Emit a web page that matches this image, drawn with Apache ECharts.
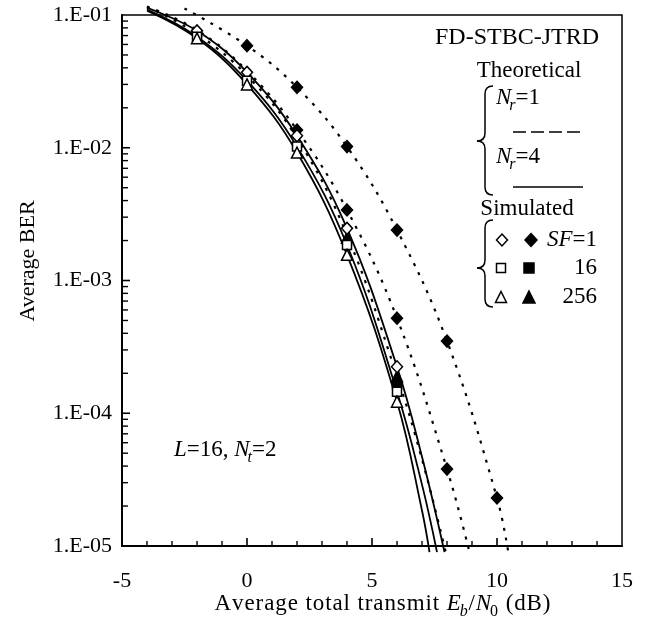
<!DOCTYPE html>
<html><head><meta charset="utf-8">
<script src="https://cdn.jsdelivr.net/npm/echarts/dist/echarts.min.js"></script>
<style>html,body{margin:0;padding:0;background:#fff}#c{width:651px;height:619px}</style>
</head><body><div id="c"></div>
<script>
// ---------- data ----------
const xTickLabels = ['-5', '0', '5', '10', '15'];
const yTickLabels = ['1.E-01', '1.E-02', '1.E-03', '1.E-04', '1.E-05'];
// solid theoretical curves
const solidA = [[-4, 0.113], [-2, 0.076], [0, 0.037], [2, 0.0123], [4, 0.00247], [6, 2.24e-4], [7, 4.7e-5], [7.9, 9e-6]];
const solidB = [[-4, 0.110], [-2, 0.0687], [0, 0.032], [2, 0.0102], [4, 0.00185], [6, 1.45e-4], [7, 2.9e-5], [7.6, 9e-6]];
const solidC = [[-4, 0.108], [-2, 0.0667], [0, 0.030], [2, 0.0092], [4, 0.00156], [6, 1.22e-4], [7, 1.85e-5], [7.3, 9e-6]];
// dotted theoretical curves
const dottedA = [[-2.5, 0.112], [0, 0.0587], [2, 0.0285], [4, 0.0102], [6, 0.0024], [8, 3.5e-4], [10, 2.3e-5], [10.45, 9e-6]];
const dottedB = [[-4, 0.116], [-2, 0.077], [0, 0.038], [2, 0.0136], [4, 0.0034], [6, 5.2e-4], [8, 3.8e-5], [8.9, 9e-6]];
const dottedC = [[-4, 0.115], [-2, 0.072], [0, 0.035], [2, 0.0118], [4, 0.0022], [6, 1.9e-4], [7, 4.5e-5], [7.95, 9e-6]];
// simulated markers
const openDiamond = [[-2, 0.076], [0, 0.037], [2, 0.0123], [4, 0.00247], [6, 2.24e-4]];
const openSquare = [[-2, 0.0687], [0, 0.032], [2, 0.0102], [4, 0.00185], [6, 1.45e-4]];
const openTriangle = [[-2, 0.0667], [0, 0.030], [2, 0.0092], [4, 0.00156], [6, 1.22e-4]];
const filledDiamond = [[0, 0.0587], [2, 0.0285], [4, 0.0102], [6, 0.0024], [8, 3.5e-4], [10, 2.3e-5],
                       [2, 0.0136], [4, 0.0034], [6, 5.2e-4], [8, 3.8e-5]];
const filledSquare = [[6, 1.65e-4]];
const filledTriangle = [[4, 0.0021], [6, 1.89e-4]];

// ---------- helpers ----------
const FONT = '"Liberation Serif","Times New Roman",serif';
const CV = document.createElement('canvas').getContext('2d');
function measure(font, t) { CV.font = font; return CV.measureText(t).width; }
function richText(x, y, parts, size, align, track) {
  track = track || 0;
  const items = []; let cur = 0;
  for (const [t, st] of parts) {
    const sub = st.indexOf('sub') >= 0, it = st.indexOf('i') >= 0;
    const fs = sub ? Math.round(size * 0.68) : size;
    const font = (it ? 'italic ' : '') + fs + 'px ' + FONT;
    const shift = sub ? -2 : 0;
    cur += shift;
    const chunks = track ? t.split('') : [t];
    for (const ch of chunks) {
      items.push({ t: ch, font, dx: cur, dy: sub ? size * 0.32 : 0 });
      cur += measure(font, ch) + track;
    }
  }
  const start = align === 'center' ? x - cur / 2 : align === 'right' ? x - cur : x;
  return items.map(o => ({ type: 'text', x: start + o.dx, y: y + o.dy, z: 100,
    style: { text: o.t, font: o.font, fill: '#000', align: 'left', verticalAlign: 'middle' } }));
}
function diamondPts(cx, cy, w, h) { return [[cx, cy - h / 2], [cx + w / 2, cy], [cx, cy + h / 2], [cx - w / 2, cy]]; }
function triPts(cx, cy, w, h) { return [[cx, cy - h / 2], [cx + w / 2, cy + h / 2], [cx - w / 2, cy + h / 2]]; }
function poly(pts, filled) { return { type: 'polygon', z: 100, shape: { points: pts }, style: { fill: filled ? '#000' : '#fff', stroke: '#000', lineWidth: 1.5 } }; }
function rectEl(cx, cy, s, filled) { return { type: 'rect', z: 100, shape: { x: cx - s / 2, y: cy - s / 2, width: s, height: s }, style: { fill: filled ? '#000' : '#fff', stroke: '#000', lineWidth: 1.5 } }; }
const stroke = { fill: null, stroke: '#000', lineWidth: 1.5 };
function brace(x, top, tip, bottom) {
  const r = 8;
  const q = (x1, y1, cx, cy, x2, y2) => ({ type: 'bezierCurve', z: 100, shape: { x1, y1, x2, y2, cpx1: cx, cpy1: cy }, style: stroke });
  const l = (x1, y1, x2, y2) => ({ type: 'line', z: 100, shape: { x1, y1, x2, y2 }, style: stroke });
  return [
    q(x + r, top, x, top, x, top + r), l(x, top + r, x, tip - r),
    q(x, tip - r, x, tip, x - r, tip), q(x - r, tip, x, tip, x, tip + r),
    l(x, tip + r, x, bottom - r), q(x, bottom - r, x, bottom, x + r, bottom)
  ];
}

// tick values
const xMajorTicks = [0, 5, 10];
const xMinorTicks = [];
for (let v = -4; v <= 14; v++) if (v % 5 !== 0) xMinorTicks.push(v);
const yMajorTicks = [1e-4, 1e-3, 1e-2];
const yMinorTicks = [];
for (let e = -5; e <= -2; e++) for (let m = 2; m <= 9; m++) yMinorTicks.push(m * Math.pow(10, e));

const LG = 23;
const graphics = [].concat(
  richText(599, 38, [['FD-STBC-JTRD', '']], 24, 'right'),
  richText(529, 71, [['Theoretical', '']], LG, 'center'),
  richText(496, 98, [['N', 'i'], ['r', 'isub'], ['=1', '']], LG, 'left'),
  richText(496, 157, [['N', 'i'], ['r', 'isub'], ['=4', '']], LG, 'left'),
  richText(527, 209, [['Simulated', '']], LG, 'center'),
  richText(547, 240, [['SF', 'i'], ['=1', '']], LG, 'left'),
  richText(597, 268, [['16', '']], LG, 'right'),
  richText(597, 297, [['256', '']], LG, 'right'),
  richText(174, 450, [['L', 'i'], ['=16, ', ''], ['N', 'i'], ['t', 'isub'], ['=2', '']], LG, 'left'),
  richText(383, 604, [['Average total transmit ', ''], ['E', 'i'], ['b', 'isub'], ['/', ''], ['N', 'i'], ['0', 'sub'], [' (dB)', '']], 23, 'center', 0.9),
  brace(485, 86, 141, 195),
  brace(485, 220, 268, 307),
  [
    { type: 'text', x: 28, y: 261, rotation: Math.PI / 2, z: 100,
      style: { text: 'Average BER', font: '22px ' + FONT, fill: '#000', align: 'center', verticalAlign: 'middle' } },
    { type: 'line', z: 100, shape: { x1: 513, y1: 132, x2: 583, y2: 132 }, style: { stroke: '#000', lineWidth: 1.5, lineDash: [13, 5] } },
    { type: 'line', z: 100, shape: { x1: 513, y1: 187, x2: 583, y2: 187 }, style: { stroke: '#000', lineWidth: 1.5 } },
    poly(diamondPts(502, 240, 11, 12), false), poly(diamondPts(531, 240, 12, 13), true),
    rectEl(501, 268, 9, false), rectEl(529, 268, 10, true),
    poly(triPts(501, 297, 11, 11), false), poly(triPts(529, 297, 12, 12), true)
  ]
);

const solidStyle = { color: '#000', width: 1.8 };
const dotStyle = { color: '#000', width: 2.2, type: [3, 7] };
function lineSeries(data, style) {
  return { type: 'line', data, symbol: 'none', smooth: 0.4, clip: false, lineStyle: style, z: 2, silent: true };
}
function scatterSeries(data, symbol, size, filled) {
  return { type: 'scatter', data, symbol, symbolSize: size, z: filled ? 8 : 10, silent: true, clip: false,
    itemStyle: { color: filled ? '#000' : '#fff', borderColor: '#000', borderWidth: 1.5, opacity: 1 } };
}

const chart = echarts.init(document.getElementById('c'), null, { renderer: 'canvas' });
chart.setOption({
  animation: false,
  backgroundColor: '#fff',
  grid: { left: 122, right: 29, top: 15, bottom: 73, show: true, backgroundColor: 'transparent', borderColor: '#000', borderWidth: 1.5, containLabel: false, outerBoundsMode: 'none' },
  xAxis: {
    type: 'value', min: -5, max: 15, interval: 5,
    axisLine: { show: true, onZero: false, lineStyle: { color: '#000', width: 2 } },
    axisTick: { show: false },
    minorTick: { show: false },
    splitLine: { show: false },
    axisLabel: { margin: 24, color: '#000', fontFamily: FONT, fontSize: 22,
      formatter: v => xTickLabels[Math.round((v + 5) / 5)] }
  },
  yAxis: {
    type: 'log', logBase: 10, min: 1e-5, max: 0.1,
    axisLine: { show: true, onZero: false, lineStyle: { color: '#000', width: 2 } },
    axisTick: { show: false },
    minorTick: { show: false },
    splitLine: { show: false },
    axisLabel: { margin: 10, color: '#000', fontFamily: FONT, fontSize: 22,
      formatter: v => yTickLabels[-1 - Math.round(Math.log10(v))] }
  },
  graphic: { elements: graphics },
  series: [
    lineSeries(solidA, solidStyle), lineSeries(solidB, solidStyle), lineSeries(solidC, solidStyle),
    lineSeries(dottedA, dotStyle), lineSeries(dottedB, dotStyle), lineSeries(dottedC, dotStyle),
    scatterSeries(filledDiamond, 'diamond', [11, 12], true),
    scatterSeries(filledSquare, 'rect', 9, true),
    scatterSeries(filledTriangle, 'triangle', 11, true),
    scatterSeries(openDiamond, 'diamond', [11, 12], false),
    scatterSeries(openSquare, 'rect', 9, false),
    scatterSeries(openTriangle, 'triangle', 11, false)
  ]
});

// axis ticks placed through the chart's own scales (drawn as thin filled bars)
const tickEls = [];
const toPx = (x, y) => chart.convertToPixel({ seriesIndex: 0 }, [x, y]);
const bar = (x, y, w, h) => tickEls.push({ type: 'rect', z: 120, shape: { x, y, width: w, height: h }, style: { fill: '#000', stroke: null } });
xMajorTicks.forEach(v => { const p = toPx(v, 1e-5); bar(p[0] - 0.8, p[1] - 8, 1.6, 8); });
xMinorTicks.forEach(v => { const p = toPx(v, 1e-5); bar(p[0] - 0.7, p[1] - 5, 1.4, 5); });
yMajorTicks.forEach(v => { const p = toPx(-5, v); bar(p[0], p[1] - 0.8, 8, 1.6); });
yMinorTicks.forEach(v => { const p = toPx(-5, v); bar(p[0], p[1] - 0.7, 6, 1.4); });
chart.setOption({ graphic: { elements: graphics.concat(tickEls) } });
</script></body></html>
